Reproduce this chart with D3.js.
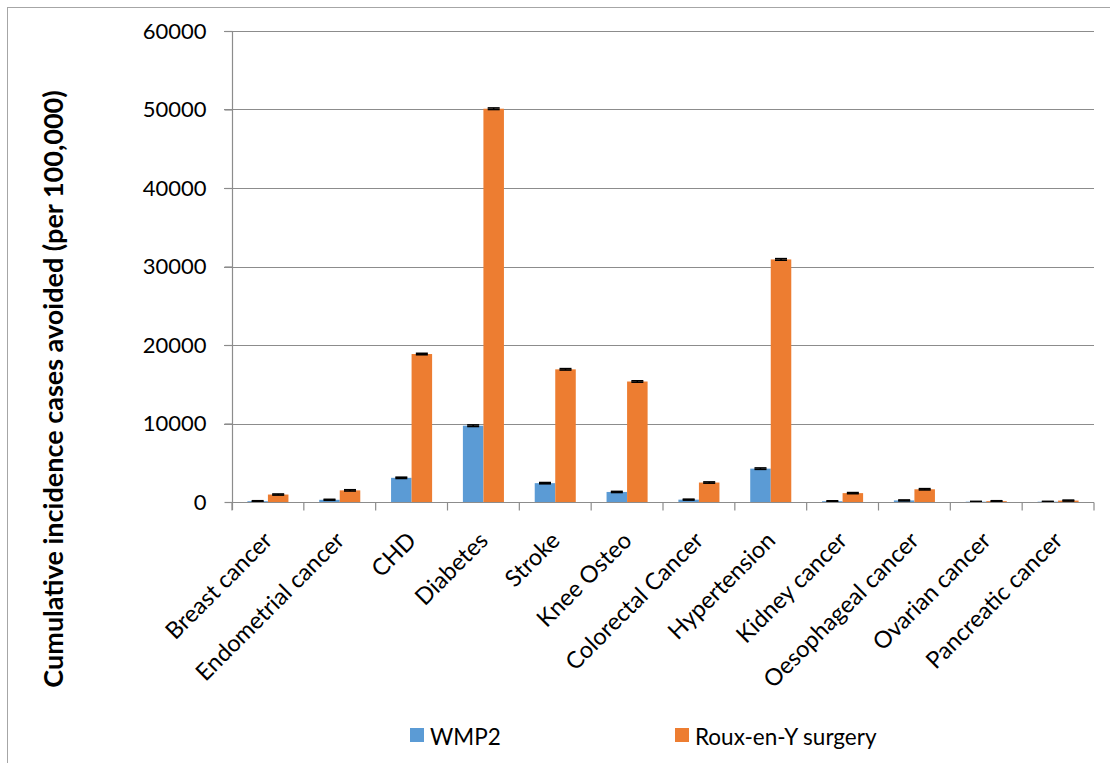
<!DOCTYPE html>
<html>
<head>
<meta charset="utf-8">
<script src="https://cdn.jsdelivr.net/npm/d3@7"></script>
<style>
  html, body { margin: 0; padding: 0; background: #fff; }
  svg { display: block; }
  text { font-family: Lato, "Open Sans", sans-serif; fill: #000; }
</style>
</head>
<body>
<svg id="chart" width="1110" height="763"></svg>
<script>
const categories = ["Breast cancer", "Endometrial cancer", "CHD", "Diabetes", "Stroke", "Knee Osteo",
  "Colorectal Cancer", "Hypertension", "Kidney cancer", "Oesophageal cancer", "Ovarian cancer", "Pancreatic cancer"];
const seriesNames = ["WMP2", "Roux-en-Y surgery"];
const wmp2 = [100, 280, 3080, 9720, 2400, 1280, 300, 4250, 100, 200, 40, 40];
const wmp2Err = [60, 60, 80, 100, 80, 70, 60, 90, 50, 60, 40, 40];
const rygb = [950, 1480, 18850, 50100, 16900, 15350, 2480, 30900, 1130, 1620, 110, 180];
const rygbErr = [70, 80, 90, 100, 90, 90, 80, 100, 70, 80, 50, 60];
const yTicks = [0, 10000, 20000, 30000, 40000, 50000, 60000];
const colors = ["#5B9BD5", "#ED7D31"];

const svg = d3.select("#chart");
const margin = { left: 232, right: 1094, top: 31, bottom: 502 };

// outer border
svg.append("rect").attr("x", 7.5).attr("y", 7.5).attr("width", 1200).attr("height", 1000)
  .attr("fill", "none").attr("stroke", "#a6a6a6").attr("stroke-width", 1);

const x0 = d3.scaleBand().domain(categories).range([margin.left, margin.right]).paddingInner(0).paddingOuter(0);
const x1 = d3.scaleBand().domain(seriesNames).range([0, x0.bandwidth()]).paddingInner(0).paddingOuter(0.75);
const y = d3.scaleLinear().domain([0, 60000]).range([margin.bottom, margin.top]);

// gridlines
svg.append("g").selectAll("line").data(yTicks.filter(d => d > 0)).join("line")
  .attr("x1", margin.left - 8).attr("x2", margin.right)
  .attr("y1", d => Math.round(y(d)) + 0.5).attr("y2", d => Math.round(y(d)) + 0.5)
  .attr("stroke", "#8c8c8c").attr("stroke-width", 1.2);

// y axis
const yAxis = svg.append("g").attr("transform", `translate(${margin.left + 0.5},0)`)
  .call(d3.axisLeft(y).tickValues(yTicks).tickSize(8).tickPadding(18).tickFormat(d3.format("d")));
yAxis.select(".domain").attr("d", `M0,${margin.top}V${margin.bottom + 8}`).attr("stroke", "#8c8c8c").attr("stroke-width", 1.2);
yAxis.selectAll(".tick line").attr("stroke", "#8c8c8c").attr("stroke-width", 1.2);
yAxis.selectAll(".tick text").style("font-size", "22px").style("font-family", "Lato, sans-serif");

// bars
const rows = categories.map((c, i) => ({ c, vals: [
  { s: seriesNames[0], v: wmp2[i], e: wmp2Err[i] },
  { s: seriesNames[1], v: rygb[i], e: rygbErr[i] }
]}));
const grp = svg.append("g").selectAll("g").data(rows).join("g")
  .attr("transform", d => `translate(${x0(d.c)},0)`);
grp.selectAll("rect").data(d => d.vals).join("rect")
  .attr("x", d => x1(d.s)).attr("width", x1.bandwidth())
  .attr("y", d => y(d.v)).attr("height", d => y(0) - y(d.v))
  .attr("fill", (d, i) => colors[i]);

// error bars
grp.selectAll("g.err").data(d => d.vals).join("g").attr("class", "err").each(function(d) {
  const g = d3.select(this);
  const cx = x1(d.s) + x1.bandwidth() / 2;
  g.append("line").attr("x1", cx).attr("x2", cx).attr("y1", y(d.v - d.e)).attr("y2", y(d.v + d.e))
    .attr("stroke", "#000").attr("stroke-width", 1.5);
  [d.v - d.e, d.v + d.e].forEach(v => g.append("line")
    .attr("x1", cx - 6).attr("x2", cx + 6).attr("y1", y(v)).attr("y2", y(v))
    .attr("stroke", "#000").attr("stroke-width", 1.6));
});

// x axis
const xAxis = svg.append("g").attr("transform", `translate(0,${Math.round(y(0)) + 0.5})`);
xAxis.append("line").attr("x1", margin.left).attr("x2", margin.right).attr("stroke", "#8c8c8c").attr("stroke-width", 1.2);
xAxis.selectAll("line.tk").data(categories.concat(["_end"])).join("line").attr("class", "tk")
  .attr("x1", (d, i) => margin.left + i * x0.bandwidth()).attr("x2", (d, i) => margin.left + i * x0.bandwidth())
  .attr("y1", 0).attr("y2", 8).attr("stroke", "#8c8c8c").attr("stroke-width", 1.2);
svg.append("g").selectAll("text").data(categories).join("text")
  .attr("transform", d => `translate(${x0(d) + x0.bandwidth() / 2 + 6},${y(0) + 40}) rotate(-45)`)
  .attr("text-anchor", "end")
  .style("font-size", "23.5px").text(d => d);

// y title
svg.append("text").attr("transform", `translate(63,389) rotate(-90)`)
  .attr("text-anchor", "middle").style("font-size", "27px").style("font-weight", "bold")
  .text("Cumulative incidence cases avoided (per 100,000)");

// legend
const legendX = [410, 675];
const lg = svg.append("g").selectAll("g").data(seriesNames).join("g")
  .attr("transform", (d, i) => `translate(${legendX[i]},728)`);
lg.append("rect").attr("width", 14).attr("height", 14).attr("fill", (d, i) => colors[i]);
lg.append("text").attr("x", 20).attr("y", 17).style("font-size", "22.5px").text(d => d);
</script>
</body>
</html>
